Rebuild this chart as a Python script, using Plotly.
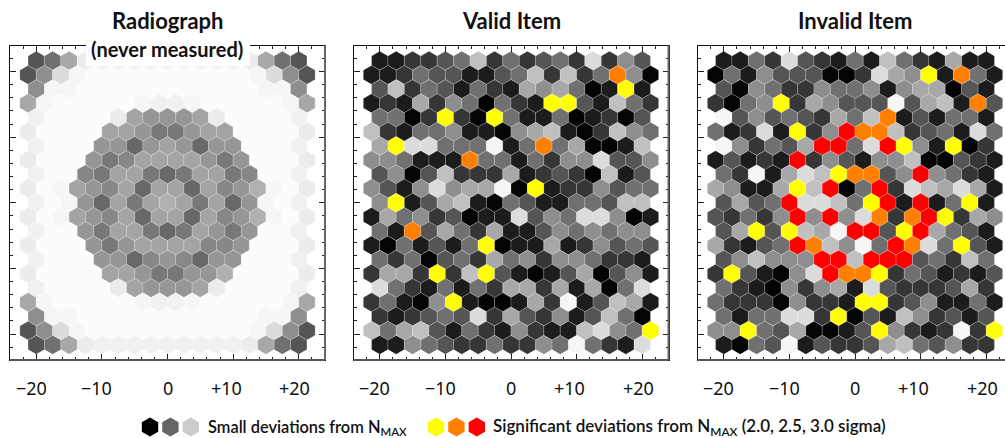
import plotly.graph_objects as go

W, H = 1005, 438
# Cell codes, top row first. 0-9,a-d,p-u = grey level; Y/O/R = 2.0, 2.5, 3.0 sigma
radiograph = [
    "346abbbbbbbbba643", "358cddddddddddc853", "5ccdddddddddddcc5",
    "6cdddddcbbcdddddc6", "bddddatssstaddddb", "addddttsqqsttdddda",
    "bdddsspstspssdddb", "adddsqrttttsqsddda", "bddrqttqpqttqrddb",
    "adctsrtpttptrsucda", "bdcsptqtutqtpscdb", "adctsrtpttptrsucda",
    "bddsqttqpqtsqsddb", "adddsqsttttrrsddda", "bdddssprsrpssdddb",
    "addddttsqqssudddda", "bddddatssstaddddb", "6cdddddcbbcdddddc6",
    "5ccdddddddddddcc5", "358cddddddddddc853", "346abbbbbbbbba643",
]
valid_item = [
    "11223472423428253", "112433113472724O50", "372431421656401Y1",
    "12162540421YY31742", "4402Y20Y411401203", "721445110567102754",
    "6Y88444914O460017", "554111O44142558335", "35037222612320713",
    "5315856690Y1225344", "5Y136710431144377", "164523011835488501",
    "41O36426113545455", "1041314Y0116125343", "42403426452554221",
    "2662Y27Y3101360351", "84214142662616048", "24105Y100162913761",
    "21234382632513740", "74673142152117854Y", "11543224225494218",
]
invalid_item = [
    "11428321417421611", "0415333002865Y1O41", "30542254451566031",
    "2045Y26533393671O3", "9353432647O131441", "41281Y25ROO7234184",
    "952436RR48RY51Y02", "13121R253155700321", "4291687YOO35R5421",
    "65116Y7R04R2876861", "3634R8874YR1R14Y1", "32425R5R58O2ORY265",
    "36Y3Y769RR3YR6431", "62134RO7594RO84Y31", "357555RR7RRR34274",
    "2Y31058ROOY2431213", "42105256183222362", "422205221YY2351141",
    "4144882Y031752313", "55Y4360013Y521292Y", "10439132236743522",
]
titles = ["Radiograph", "Valid Item", "Invalid Item"]
tick_vals = [-20, -10, 0, 10, 20]
tick_text = ["\u221220", "\u221210", "0", "+10", "+20"]
legend_small = ["#000000", "#666666", "#cccccc"]
legend_sig = ["#ffff00", "#ff8000", "#ff0000"]

PALETTE = {"0": "#040404", "1": "#1c1c1c", "2": "#363636", "3": "#555555", "4": "#707070",
           "5": "#8e8e8e", "6": "#a8a8a8", "7": "#c0c0c0", "8": "#dcdcdc", "9": "#f6f6f6",
           "a": "#ececec", "b": "#f1f1f1", "c": "#f6f6f6", "d": "#fcfcfc",
           "p": "#686868", "q": "#787878", "r": "#878787", "s": "#969696", "t": "#a4a4a4", "u": "#b0b0b0",
           "Y": "#ffff00", "O": "#ff8000", "R": "#ff0000"}

FONT = "Lato, Noto Sans, sans-serif"
TOP, BOT = 45.5, 360.0
PANELS = [(10.0, 325.0, -24.0), (353.5, 668.5, -24.0), (697.5, 1005.0, -24.0)]
SCALE = 315.0 / 48.0
HEX_DX, HEX_DY = 2.5, 2.165
HEX_SIZE = 18.9
TICK_LABEL_SHIFT = [-5, -5, 0, -7, -4]

fig = go.Figure()


def add_hexes(rows, axis):
    xs, ys, cs = [], [], []
    for r, row in enumerate(rows):
        offset = (len(row) - 1) / 2
        for c, code in enumerate(row):
            xs.append((c - offset) * HEX_DX)
            ys.append((10 - r) * HEX_DY)
            cs.append(PALETTE[code])
    fig.add_trace(go.Scatter(
        x=xs, y=ys, mode="markers", hoverinfo="skip", showlegend=False,
        xaxis=f"x{axis}", yaxis=f"y{axis}",
        marker=dict(symbol="hexagon", size=HEX_SIZE, color=cs,
                    line=dict(width=0.5, color="rgba(255,255,255,0.35)"))))


for i, rows in enumerate([radiograph, valid_item, invalid_item], start=1):
    add_hexes(rows, i)

layout = dict(
    width=W, height=H, margin=dict(l=0, r=0, t=0, b=0), autosize=False,
    paper_bgcolor="white", plot_bgcolor="rgba(0,0,0,0)", showlegend=False,
    font=dict(family=FONT, color="#111111"),
)
shapes, annotations = [], []


def px(x):
    return x / W


def py(y):
    return 1 - y / H


for i, (left, right, x0) in enumerate(PANELS, start=1):
    x1 = x0 + (right - left) / SCALE
    layout[f"xaxis{i}"] = dict(
        domain=[px(left), px(right)], range=[x0, x1], anchor=f"y{i}",
        showgrid=False, zeroline=False, showline=True, linecolor="#111111", linewidth=1,
        mirror="all", ticks="inside", ticklen=6, tickwidth=1, tickcolor="#222222",
        tickmode="array", tickvals=tick_vals, showticklabels=False,
        minor=dict(tickmode="linear", tick0=0, dtick=2, ticks="inside", ticklen=3,
                   tickwidth=1, tickcolor="#222222", showgrid=False),
    )
    layout[f"yaxis{i}"] = dict(
        domain=[py(BOT), py(TOP)], range=[-157.25 / SCALE, 157.25 / SCALE], anchor=f"x{i}",
        showgrid=False, zeroline=False, showline=True, linecolor="#111111", linewidth=1,
        mirror="all" if i < 3 else False,
        ticks="inside", ticklen=6, tickwidth=1, tickcolor="#222222",
        tickmode="linear", tick0=0, dtick=10, showticklabels=False,
        minor=dict(tickmode="linear", tick0=0, dtick=2, ticks="inside", ticklen=3,
                   tickwidth=1, tickcolor="#222222", showgrid=False),
    )
    centre = left + 157.5
    annotations.append(dict(
        text=f"<b>{titles[i - 1]}</b>", x=px(centre), y=py(21), xref="paper", yref="paper",
        showarrow=False, xanchor="center", yanchor="middle", font=dict(size=22, color="#111111")))
    for val, label, shift in zip(tick_vals, tick_text, TICK_LABEL_SHIFT):
        annotations.append(dict(
            text=label, x=val, xref=f"x{i}", y=py(388), yref="paper", xshift=shift,
            showarrow=False, xanchor="center", yanchor="middle",
            font=dict(family="Noto Sans, sans-serif", size=18, color="#111111")))
    # heavier grey edge along the bottom and right of each frame
    shapes.append(dict(type="line", xref="paper", yref="paper", layer="above",
                       x0=px(left), x1=px(right), y0=py(BOT), y1=py(BOT),
                       line=dict(color="#555555", width=2)))
    if right < W:
        shapes.append(dict(type="line", xref="paper", yref="paper", layer="above",
                           x0=px(right), x1=px(right), y0=py(BOT), y1=py(TOP),
                           line=dict(color="#666666", width=2)))

# white box behind the subtitle that interrupts the first panel's frame
shapes.append(dict(type="rect", xref="paper", yref="paper", layer="above",
                   x0=px(86), x1=px(250), y0=py(66), y1=py(40),
                   fillcolor="white", line=dict(width=0)))
annotations.append(dict(
    text="<b>(never measured)</b>", x=px(167), y=py(49), xref="paper", yref="paper",
    showarrow=False, xanchor="center", yanchor="middle", font=dict(size=20, color="#111111")))

# legend drawn on a pixel-scaled overlay axis
layout["xaxis4"] = dict(domain=[0, 1], range=[0, W], visible=False, anchor="y4")
layout["yaxis4"] = dict(domain=[0, 1], range=[H, 0], visible=False, anchor="x4")
for start, colours in ((150, legend_small), (436, legend_sig)):
    fig.add_trace(go.Scatter(
        x=[start + 20.4 * k for k in range(len(colours))], y=[427] * len(colours),
        mode="markers", hoverinfo="skip", showlegend=False, xaxis="x4", yaxis="y4",
        marker=dict(symbol="hexagon", size=HEX_SIZE, color=colours, line=dict(width=0))))
annotations.append(dict(
    text="Small deviations from N<sub>MAX</sub>", x=px(206), y=py(427), xref="paper", yref="paper",
    showarrow=False, xanchor="left", yanchor="middle",
    font=dict(size=16.4, weight=600, color="#111111")))
annotations.append(dict(
    text="Significant deviations from N<sub>MAX</sub> (2.0, 2.5, 3.0 sigma)",
    x=px(491), y=py(427), xref="paper", yref="paper",
    showarrow=False, xanchor="left", yanchor="middle",
    font=dict(size=17, weight=600, color="#111111")))

layout["shapes"] = shapes
layout["annotations"] = annotations
fig.update_layout(**layout)
fig.write_html("out.html", config={"displayModeBar": False},
               post_script="document.body.style.margin='0';document.documentElement.style.overflow='hidden';")
